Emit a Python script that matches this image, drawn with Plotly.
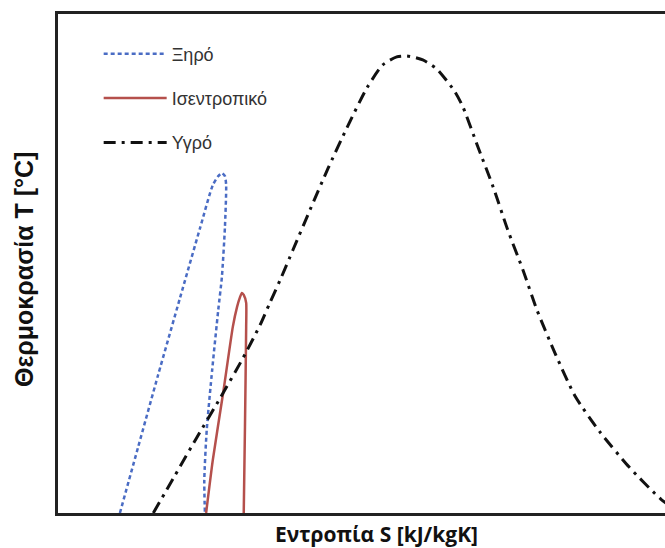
import plotly.graph_objects as go

# Ξηρό (dry) saturation dome
dry_s = [10.2, 13.2, 16.5, 20.1, 23.4, 25.5, 26.4, 27.0, 27.5, 27.7, 27.5, 27.0, 26.4, 25.4, 24.5, 24.1, 24.2]
dry_t = [0.0, 13.2, 27.7, 43.1, 57.1, 65.7, 67.5, 68.1, 67.5, 65.7, 57.3, 47.3, 40.7, 28.7, 16.6, 6.6, 0.0]

# Ισεντροπικό (isentropic) saturation dome
isen_s = [24.4, 25.5, 27.2, 28.8, 29.5, 30.0, 30.3, 30.6, 31.0, 31.0, 30.8, 30.6]
isen_t = [0.0, 10.6, 24.0, 37.3, 41.3, 43.3, 44.1, 43.7, 42.1, 37.3, 17.2, 0.0]

# Υγρό (wet) saturation dome
wet_s = [15.7, 19.3, 22.9, 26.7, 30.5, 33.3, 34.9, 36.6, 38.7, 41.5, 44.5, 47.6, 50.9, 53.5, 55.8,
         57.5, 60.1, 62.4, 65.4, 66.7, 69.2, 71.7, 74.1, 76.6, 78.9, 82.0, 85.2, 89.3, 94.1, 99.3, 102.5]
wet_t = [0.0, 7.6, 15.2, 23.0, 31.1, 37.7, 42.1, 46.7, 52.7, 60.7, 69.1, 77.2, 85.2, 89.8, 91.4,
         91.6, 90.8, 89.0, 84.4, 81.4, 73.3, 65.3, 56.7, 48.7, 40.7, 31.7, 23.4, 16.2, 9.2, 2.8, 0.0]

names = ["Ξηρό", "Ισεντροπικό", "Υγρό"]
x_title = "Εντροπία S [kJ/kgK]"
y_title = "Θερμοκρασία T [°C]"

fig = go.Figure()
fig.add_trace(go.Scatter(x=dry_s, y=dry_t, mode="lines", name=names[0], legendgroup="a",
                         line=dict(color="#4a6cc4", width=2.5, dash="4px,3px", shape="spline", smoothing=0.6)))
fig.add_trace(go.Scatter(x=isen_s, y=isen_t, mode="lines", name=names[1], legendgroup="b",
                         line=dict(color="#b5504c", width=2.5, shape="spline", smoothing=0.5)))
fig.add_trace(go.Scatter(x=wet_s, y=wet_t, mode="lines", name=names[2], legendgroup="c",
                         line=dict(color="#111111", width=3, dash="12px,6px,3px,6px", shape="spline", smoothing=0.6)))

fig.update_layout(
    width=665, height=548,
    margin=dict(l=58, r=0, t=14, b=35),
    paper_bgcolor="white", plot_bgcolor="white",
    font=dict(family="Liberation Sans, Arial, sans-serif", color="#333333"),
    showlegend=True,
    legend=dict(x=0.067, y=0.957, xanchor="left", yanchor="top", traceorder="grouped",
                tracegroupgap=18, itemwidth=63, font=dict(size=18, color="#333333"),
                bgcolor="rgba(0,0,0,0)"),
    xaxis=dict(range=[0, 100], showticklabels=False, ticks="", showgrid=False, zeroline=False,
               showline=True, linecolor="#222222", linewidth=3, mirror=True),
    yaxis=dict(range=[0, 100], showticklabels=False, ticks="", showgrid=False, zeroline=False,
               showline=True, linecolor="#222222", linewidth=3, mirror=False),
    annotations=[
        dict(text="<b>" + x_title + "</b>", xref="paper", yref="paper", x=0.524, y=0,
             yshift=-21, showarrow=False, xanchor="center", yanchor="middle",
             font=dict(size=21, color="#111111", family="Open Sans, sans-serif")),
        dict(text="<b>" + y_title + "</b>", xref="paper", yref="paper", x=0, y=0.487,
             xshift=-34, showarrow=False, xanchor="center", yanchor="middle", textangle=-90,
             font=dict(size=25, color="#111111", family="Liberation Sans, Arial, sans-serif")),
    ],
)

fig.write_html("out.html")
